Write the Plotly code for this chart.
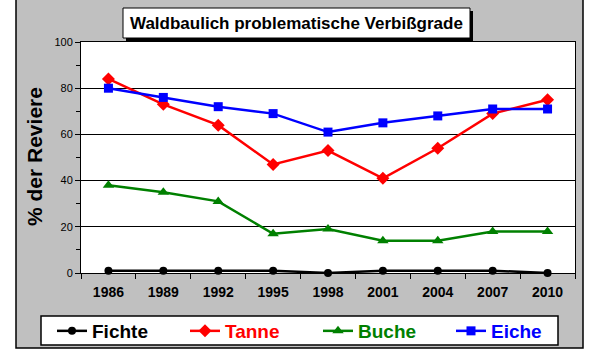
import plotly.graph_objects as go

years = ["1986", "1989", "1992", "1995", "1998", "2001", "2004", "2007", "2010"]
fichte = [1, 1, 1, 1, 0, 1, 1, 1, 0]
tanne = [84, 73, 64, 47, 53, 41, 54, 69, 75]
buche = [38, 35, 31, 17, 19, 14, 14, 18, 18]
eiche = [80, 76, 72, 69, 61, 65, 68, 71, 71]

series = [
    ("Fichte", fichte, "#000000", "circle", 8),
    ("Tanne", tanne, "#FF0000", "diamond", 10),
    ("Buche", buche, "#008000", "triangle-up", 10),
    ("Eiche", eiche, "#0000FF", "square", 9),
]

W, H = 600, 351
L, R, T, B = 81, 575, 42, 273


def px(x):
    return (x - L) / (R - L)


def py(y):
    return (B - y) / (B - T)


FONT = "Liberation Sans, Arial, sans-serif"

fig = go.Figure()
for name, vals, col, sym, size in series:
    fig.add_trace(go.Scatter(
        x=years, y=vals, mode="lines+markers",
        name=f"<span style='color:{col}'>{name}</span>",
        line=dict(color=col, width=2.5),
        marker=dict(color=col, symbol=sym, size=size, line=dict(width=0)),
        cliponaxis=False,
    ))

shapes = [
    # gray chart area
    dict(type="rect", xref="paper", yref="paper", layer="below",
         x0=px(16), x1=px(583), y0=py(348), y1=py(-2),
         fillcolor="#C0C0C0", line=dict(color="black", width=1.5)),
    # white plot area
    dict(type="rect", xref="paper", yref="paper", layer="below",
         x0=0, x1=1, y0=0, y1=1,
         fillcolor="white", line=dict(width=0)),
    # title shadow
    dict(type="rect", xref="paper", yref="paper", layer="above",
         x0=px(126), x1=px(473), y0=py(41), y1=py(11),
         fillcolor="black", line=dict(width=0)),
    # title box
    dict(type="rect", xref="paper", yref="paper", layer="above",
         x0=px(123), x1=px(470), y0=py(38), y1=py(8),
         fillcolor="white", line=dict(color="black", width=1)),
    # legend box
    dict(type="rect", xref="paper", yref="paper", layer="below",
         x0=px(41), x1=px(558), y0=py(345), y1=py(316),
         fillcolor="white", line=dict(color="black", width=1.5)),
]

annotations = [
    dict(text="<b>Waldbaulich problematische Verbißgrade</b>", xref="paper", yref="paper",
         x=px(296), y=py(23), showarrow=False, xanchor="center", yanchor="middle",
         font=dict(family=FONT, size=17, color="black")),
    dict(text="<b>% der Reviere</b>", xref="paper", yref="paper",
         x=px(34), y=py(157), showarrow=False, textangle=-90,
         xanchor="center", yanchor="middle",
         font=dict(family=FONT, size=21, color="black")),
]

fig.update_layout(
    width=W, height=H,
    margin=dict(l=L, r=W - R, t=T, b=H - B, pad=0, autoexpand=False),
    paper_bgcolor="white", plot_bgcolor="white",
    shapes=shapes, annotations=annotations,
    showlegend=True,
    legend=dict(orientation="h", xref="paper", yref="paper",
                x=px(52), y=py(331), xanchor="left", yanchor="middle",
                bgcolor="rgba(0,0,0,0)", borderwidth=0,
                font=dict(family=FONT, size=19, color="black", weight="bold"),
                entrywidth=88, entrywidthmode="pixels", itemclick=False),
    xaxis=dict(type="category", tickson="boundaries", ticks="outside", ticklen=5,
               tickcolor="black", tickwidth=1, showline=True, linecolor="black",
               linewidth=1, mirror=True, showgrid=False, zeroline=False,
               ticklabelstandoff=6,
               tickfont=dict(family=FONT, size=14, color="black", weight="bold"),
               range=[-0.5, 8.5]),
    yaxis=dict(range=[0, 100], tickvals=[0, 20, 40, 60, 80, 100], ticks="outside",
               ticklen=5, tickcolor="black", showline=True, linecolor="black",
               linewidth=1, mirror=True, showgrid=True, gridcolor="black",
               gridwidth=1, zeroline=False,
               tickfont=dict(family=FONT, size=11, color="black"),
               minor=dict(tickvals=[10, 30, 50, 70, 90], ticks="outside", ticklen=4,
                          tickcolor="black", showgrid=False)),
)

fig.write_html("out.html")
